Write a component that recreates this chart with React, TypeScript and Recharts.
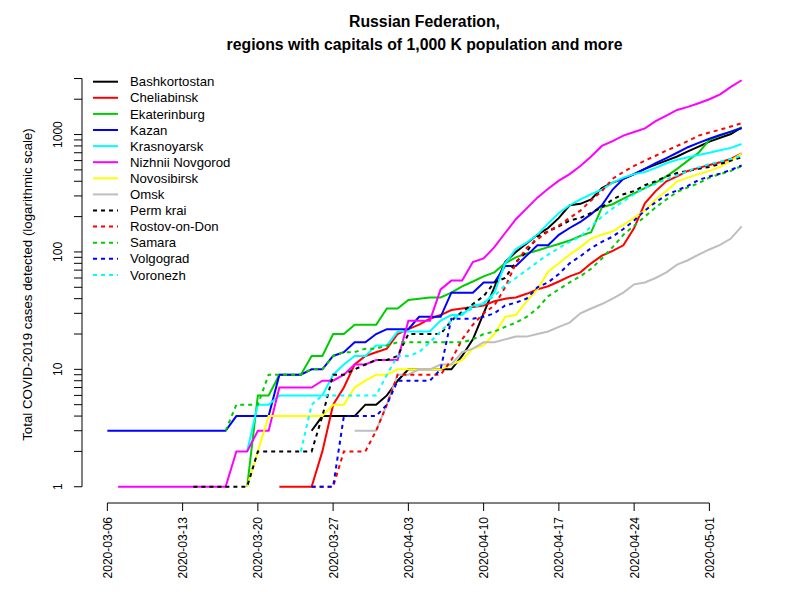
import React from 'react';
import { LineChart, Line, XAxis, YAxis, ReferenceLine, Legend } from 'recharts';

const FONT = '"Liberation Sans", Arial, Helvetica, sans-serif';
const N = null;

// day index 0 = 2020-03-06 ... 59 = 2020-05-04
const xTickDays = [0, 7, 14, 21, 28, 35, 42, 49, 56];
const xTickLabels = ['2020-03-06', '2020-03-13', '2020-03-20', '2020-03-27', '2020-04-03', '2020-04-10', '2020-04-17', '2020-04-24', '2020-05-01'];
const yTicks = [1, 2, 3, 4, 5, 6, 7, 8, 9, 10, 20, 30, 40, 50, 60, 70, 80, 90, 100, 200, 300, 400, 500, 600, 700, 800, 900, 1000, 2000, 3000];
const yTickLabels = [1, 10, 100, 1000];

const bashkortostan = [N,N,N,N,N,N,N,N,N,N,N,N,N,N,N,N,N,N,N,
  3,4,4,4,4,5,5,6,8,10,10,10,10,10,13,18,30,50,82,100,118,140,160,195,250,257,280,350,390,420,460,510,555,600,650,720,790,870,940,1010,1150];
const cheliabinsk = [N,N,N,N,N,N,N,N,N,N,N,N,N,N,N,N,
  1,1,1,1,2,5,7,11,13,14,15,20,22,24,27,29,32,33,34,35,38,40,41,44,48,51,56,62,67,80,93,102,114,160,260,330,400,440,490,520,550,580,620,690];
const ekaterinburg = [N,N,N,N,N,N,N,N,N,N,N,N,N,
  1,6,6,9,9,9,13,13,20,20,24,24,24,33,33,39,40,41,41,45,51,56,62,67,80,90,97,103,110,117,125,137,147,240,255,285,315,350,390,440,510,600,700,900,980,1060,1150];
const kazan = [3,3,3,3,3,3,3,3,3,3,3,3,4,4,4,4,9,9,9,10,10,
  13,14,17,17,20,22,22,22,28,28,28,45,45,45,55,55,76,76,93,114,114,140,160,180,210,250,340,420,460,510,570,630,700,780,850,920,990,1060,1130];
const krasnoyarsk = [N,N,N,N,N,N,N,N,N,N,N,N,N,
  2,5,5,6,6,6,6,6,9,11,13,13,16,16,21,21,21,21,26,29,29,35,36,45,80,106,120,140,175,215,250,280,310,340,390,430,460,480,520,570,610,640,670,700,735,770,830];
const nizhnii = [N,1,1,1,1,1,1,1,1,1,1,1,
  2,2,3,3,7,7,7,7,8,8,9,11,11,12,12,12,26,26,26,48,57,57,82,88,110,145,190,235,290,345,405,460,540,650,800,880,980,1050,1130,1300,1450,1620,1720,1850,2000,2200,2550,2900];
const novosibirsk = [N,N,N,N,N,N,N,N,N,N,N,N,N,
  1,2,4,4,4,4,4,4,5,5,7,8,9,9,10,10,10,10,10,11,12,15,16,20,28,29,38,48,68,80,95,110,130,140,150,170,195,225,280,330,400,430,460,490,530,600,690];
const omsk = [N,N,N,N,N,N,N,N,N,N,N,N,N,N,N,N,N,N,N,N,N,N,N,
  3,3,3,5,9,9,10,10,11,11,14,15,17,17,18,19,19,20,21,23,25,30,33,36,40,45,53,55,60,67,78,85,95,105,115,130,165];
const perm = [N,N,N,N,N,N,N,N,
  1,1,1,1,1,1,2,2,2,2,2,2,4,9,9,10,11,12,12,13,20,20,20,20,26,31,36,42,55,60,82,100,135,150,165,185,195,215,240,280,310,330,370,400,440,470,490,510,530,560,600,640];
const rostov = [N,N,N,N,N,N,N,N,N,N,N,N,N,N,N,N,N,N,N,
  1,1,1,2,2,2,3,5,9,9,9,9,9,12,18,24,30,35,50,80,108,128,150,168,195,225,275,330,420,480,540,600,660,730,800,880,980,1040,1100,1170,1250];
const samara = [N,N,N,N,N,N,N,N,N,N,N,
  3,5,5,5,9,9,9,9,10,10,13,14,14,15,15,16,17,17,17,17,17,17,17,18,20,21,23,25,28,33,42,48,55,62,72,88,110,140,167,200,240,280,325,355,385,430,460,490,540,600];
const volgograd = [N,N,N,N,N,N,N,N,N,N,N,N,N,N,N,N,N,N,N,
  1,1,1,4,4,4,4,5,8,8,8,8,10,27,27,27,28,30,35,37,40,50,55,65,80,92,108,122,135,157,185,225,265,305,335,365,410,440,465,500,545];
const voronezh = [N,N,N,N,N,N,N,N,N,N,N,N,N,N,N,N,N,N,
  2,5,6,6,6,6,6,6,9,13,13,14,17,21,26,30,33,37,42,52,60,70,82,95,108,122,135,165,200,235,270,310,350,380,415,450,490,525,560,590,620,660];

const seriesNames = ['Bashkortostan', 'Cheliabinsk', 'Ekaterinburg', 'Kazan', 'Krasnoyarsk', 'Nizhnii Novgorod', 'Novosibirsk', 'Omsk', 'Perm krai', 'Rostov-on-Don', 'Samara', 'Volgograd', 'Voronezh'];
const seriesValues = [bashkortostan, cheliabinsk, ekaterinburg, kazan, krasnoyarsk, nizhnii, novosibirsk, omsk, perm, rostov, samara, volgograd, voronezh];
const seriesColors = ['#000000', '#FF0000', '#00CD00', '#0000FF', '#00FFFF', '#FF00FF', '#FFFF00', '#BEBEBE', '#000000', '#FF0000', '#00CD00', '#0000FF', '#00FFFF'];
const seriesDashed = [false, false, false, false, false, false, false, false, true, true, true, true, true];

const data = kazan.map((_, i) => {
  const row: Record<string, number | null> = { day: i };
  seriesNames.forEach((name, s) => { row[name] = seriesValues[s][i]; });
  return row;
});

const DASH = '4 4';
const PLOT_LEFT = 82;
const PLOT_BOTTOM = 503;

const XTick = (props: any) => {
  const { x, payload } = props;
  const idx = xTickDays.indexOf(payload.value);
  const label = idx >= 0 ? xTickLabels[idx] : '';
  const tx = x + 4.5;
  const ty = PLOT_BOTTOM + 14;
  return (
    <g>
      <line x1={x} x2={x} y1={PLOT_BOTTOM} y2={PLOT_BOTTOM + 8} stroke="#000" strokeWidth={1} />
      <text x={tx} y={ty} transform={`rotate(-90, ${tx}, ${ty})`} textAnchor="end" fontSize={12} fontFamily={FONT} fill="#000">
        {label}
      </text>
    </g>
  );
};

const YTick = (props: any) => {
  const { y, payload } = props;
  const show = yTickLabels.includes(payload.value);
  const tx = 62;
  return (
    <g>
      <line x1={PLOT_LEFT - 8} x2={PLOT_LEFT} y1={y} y2={y} stroke="#000" strokeWidth={1} />
      {show && (
        <text x={tx} y={y} transform={`rotate(-90, ${tx}, ${y})`} textAnchor="middle" fontSize={12} fontFamily={FONT} fill="#000">
          {String(payload.value)}
        </text>
      )}
    </g>
  );
};

const YTitle = (props: any) => {
  const vb = props.viewBox || { y: 64, height: 439 };
  const cy = vb.y + vb.height / 2 + 1;
  const cx = 27;
  return (
    <text x={cx} y={cy} transform={`rotate(-90, ${cx}, ${cy})`} textAnchor="middle" dominantBaseline="central" fontSize={13.3} fontFamily={FONT} fill="#000">
      Total COVID-2019 cases detected (logarithmic scale)
    </text>
  );
};

const LegendBox = () => (
  <svg width={210} height={215} style={{ display: 'block' }}>
    {seriesNames.map((name, i) => {
      const cy = 9.7 + i * 16.1;
      return (
        <g key={name}>
          <line x1={3} x2={28} y1={cy} y2={cy} stroke={seriesColors[i]} strokeWidth={2} strokeDasharray={seriesDashed[i] ? DASH : undefined} />
          <text x={40} y={cy + 4.6} fontSize={13.2} fontFamily={FONT} fill="#000">{name}</text>
        </g>
      );
    })}
  </svg>
);

const yMin = 0.727;
const yMax = 3990;

export default function App() {
  return (
    <div style={{ position: 'absolute', left: 0, top: 0, width: 800, height: 600, background: '#fff' }}>
      <div style={{ position: 'absolute', left: 0, top: 10, width: 849, textAlign: 'center', fontFamily: FONT, fontWeight: 'bold', fontSize: 15.8, lineHeight: '23px', color: '#000' }}>
        <div>Russian Federation,</div>
        <div>regions with capitals of 1,000 K population and more</div>
      </div>
      <LineChart width={800} height={600} data={data} margin={{ top: 64, right: 33, bottom: 7, left: 2 }}>
        <XAxis
          dataKey="day"
          type="number"
          domain={[-2.36, 61.36]}
          ticks={xTickDays}
          interval={0}
          height={90}
          axisLine={false}
          tickLine={false}
          tick={<XTick />}
          allowDataOverflow
        />
        <YAxis
          scale="log"
          domain={[yMin, yMax]}
          ticks={yTicks}
          interval={0}
          width={80}
          axisLine={false}
          tickLine={false}
          tick={<YTick />}
          allowDataOverflow
          label={<YTitle />}
        />
        <ReferenceLine segment={[{ x: 0, y: yMin }, { x: 56, y: yMin }]} stroke="#000" strokeWidth={1} ifOverflow="visible" />
        <ReferenceLine segment={[{ x: -2.36, y: 1 }, { x: -2.36, y: 3000 }]} stroke="#000" strokeWidth={1} ifOverflow="visible" />
        <Legend
          layout="vertical"
          align="center"
          verticalAlign="middle"
          content={<LegendBox />}
          wrapperStyle={{ position: 'absolute', left: 90, top: 72, width: 210, height: 215 }}
        />
        {seriesNames.map((name, i) => (
          <Line
            key={name}
            dataKey={name}
            type="linear"
            stroke={seriesColors[i]}
            strokeWidth={2}
            strokeDasharray={seriesDashed[i] ? DASH : undefined}
            dot={false}
            activeDot={false}
            isAnimationActive={false}
            connectNulls={false}
          />
        ))}
      </LineChart>
    </div>
  );
}
